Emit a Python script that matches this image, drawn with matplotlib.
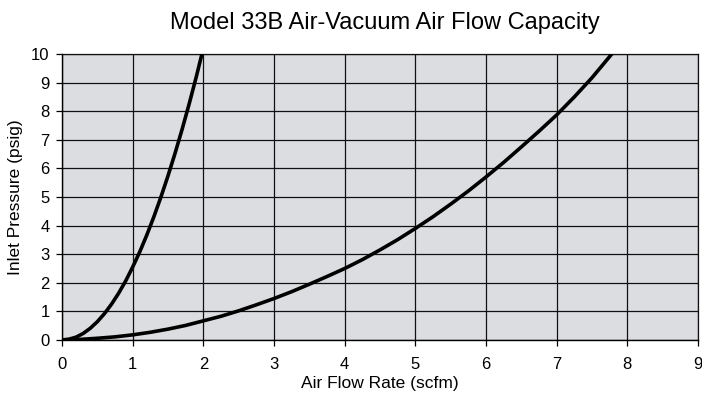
import matplotlib
matplotlib.use("Agg")
import matplotlib.pyplot as plt

plt.rcParams["font.family"] = ["Liberation Sans", "DejaVu Sans"]

# small valve: pressure rises steeply with flow
small_flow = [0.0, 0.1, 0.2, 0.3, 0.4, 0.5, 0.6, 0.7, 0.8, 0.9, 1.0,
              1.1, 1.2, 1.3, 1.4, 1.5, 1.6, 1.7, 1.8, 1.9, 1.98]
small_psig = [0.0, 0.03, 0.10, 0.23, 0.41, 0.64, 0.92, 1.25, 1.63, 2.06, 2.55,
              3.08, 3.67, 4.31, 5.00, 5.74, 6.53, 7.37, 8.26, 9.20, 10.0]

# large orifice curve
large_flow = [0.0, 0.25, 0.5, 0.75, 1.0, 1.25, 1.5, 1.75, 2.0, 2.25, 2.5, 2.75,
              3.0, 3.25, 3.5, 3.75, 4.0, 4.25, 4.5, 4.75, 5.0, 5.25, 5.5, 5.75,
              6.0, 6.25, 6.5, 6.75, 7.0, 7.25, 7.5, 7.78]
large_psig = [0.0, 0.02, 0.06, 0.11, 0.18, 0.27, 0.38, 0.51, 0.67, 0.83, 1.02, 1.23,
              1.45, 1.69, 1.95, 2.22, 2.50, 2.81, 3.15, 3.51, 3.90, 4.31, 4.75, 5.21,
              5.70, 6.21, 6.75, 7.30, 7.87, 8.50, 9.17, 10.0]

x_ticks = list(range(0, 10))
y_ticks = list(range(0, 11))

fig = plt.figure(figsize=(7.02, 3.96), dpi=100)
ax = fig.add_axes([62 / 702, 1 - 340 / 396, 636 / 702, 286 / 396])
ax.set_facecolor("#dcdde0")

for xs, ys in [(small_flow, small_psig), (large_flow, large_psig)]:
    ax.plot(xs, ys, color="black", lw=2.6, solid_capstyle="round",
            solid_joinstyle="round", zorder=3)

ax.set_xlim(0, 9)
ax.set_ylim(0, 10)
ax.set_xticks(x_ticks)
ax.set_yticks(y_ticks)
ax.grid(True, color="#111111", lw=0.9)
ax.set_axisbelow(True)
for side in ["top", "right"]:
    ax.spines[side].set_color("#111111")
    ax.spines[side].set_linewidth(0.9)
for side in ["left", "bottom"]:
    ax.spines[side].set_color("black")
    ax.spines[side].set_linewidth(1.0)

ax.tick_params(axis="x", length=4, width=0.9, pad=8, labelsize=12)
ax.tick_params(axis="y", length=4, width=0.9, pad=5, labelsize=12)

ax.set_xlabel("Air Flow Rate (scfm)", fontsize=12.5, labelpad=3)
ax.set_ylabel("Inlet Pressure (psig)", fontsize=12.5, labelpad=6)
fig.text(385 / 702, 1 - 22.5 / 396, "Model 33B Air-Vacuum Air Flow Capacity",
         ha="center", va="center", fontsize=17)

fig.savefig("out.png", dpi=100)
